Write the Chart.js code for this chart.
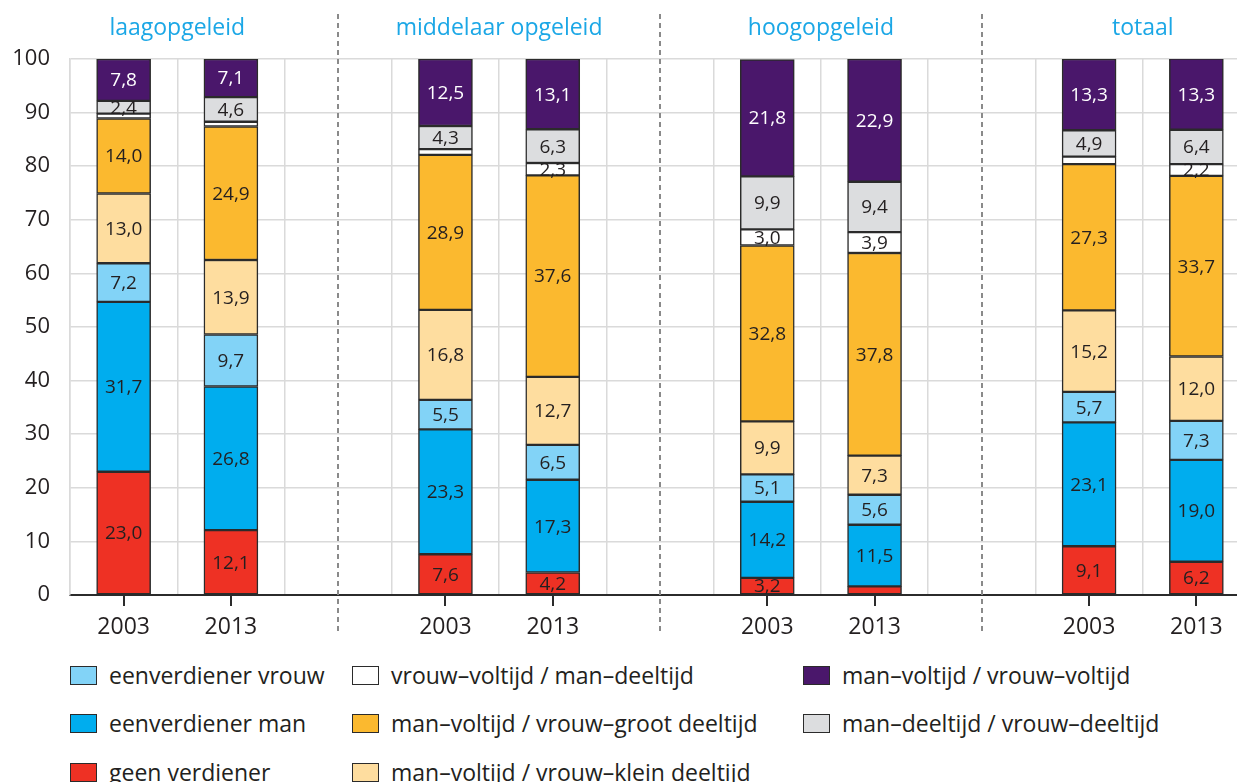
<!DOCTYPE html>
<html>
<head>
<meta charset="utf-8">
<script src="https://cdn.jsdelivr.net/npm/chart.js@4"></script>
<style>
  html, body { margin: 0; padding: 0; background: #fff; overflow: hidden; }
  #wrap { position: relative; width: 1250px; height: 782px; font-family: "Open Sans", sans-serif; }
  #chartBox { position: absolute; left: 0; top: 0; width: 1250px; height: 640px; }
  .lg { position: absolute; display: flex; align-items: center; height: 24px; font-size: 23px; color: #231f20; white-space: nowrap; }
  .lg span.box { display: inline-block; width: 25px; height: 17px; border: 1.5px solid #2b2b2b; margin-right: 12px; }
</style>
</head>
<body>
<div id="wrap">
  <div id="chartBox"><canvas id="chart"></canvas></div>
  <div id="legend"></div>
</div>
<script>
// groups and years on the x axis
const groups = ['laagopgeleid', 'middelaar opgeleid', 'hoogopgeleid', 'totaal'];
const years = ['2003', '2013'];

// values per series: laag 2003, laag 2013, midd 2003, midd 2013, hoog 2003, hoog 2013, totaal 2003, totaal 2013
const geenVerdiener      = [23.0, 12.1, 7.6, 4.2, 3.2, 1.6, 9.1, 6.2];
const eenverdienerMan    = [31.7, 26.8, 23.3, 17.3, 14.2, 11.5, 23.1, 19.0];
const eenverdienerVrouw  = [7.2, 9.7, 5.5, 6.5, 5.1, 5.6, 5.7, 7.3];
const vrouwKleinDeeltijd = [13.0, 13.9, 16.8, 12.7, 9.9, 7.3, 15.2, 12.0];
const vrouwGrootDeeltijd = [14.0, 24.9, 28.9, 37.6, 32.8, 37.8, 27.3, 33.7];
const vrouwVoltijdManDt  = [0.9, 0.9, 1.1, 2.3, 3.0, 3.9, 1.4, 2.2];
const beideDeeltijd      = [2.4, 4.6, 4.3, 6.3, 9.9, 9.4, 4.9, 6.4];
const beideVoltijd       = [7.8, 7.1, 12.5, 13.1, 21.8, 22.9, 13.3, 13.3];

const yTicks = [0, 10, 20, 30, 40, 50, 60, 70, 80, 90, 100];

// series, bottom of the stack first
const series = [
  { label: 'geen verdiener', data: geenVerdiener, color: '#ee3124', text: '#231f20' },
  { label: 'eenverdiener man', data: eenverdienerMan, color: '#00adee', text: '#231f20' },
  { label: 'eenverdiener vrouw', data: eenverdienerVrouw, color: '#82d3f7', text: '#231f20' },
  { label: 'man\u2013voltijd / vrouw\u2013klein deeltijd', data: vrouwKleinDeeltijd, color: '#fedd9f', text: '#231f20' },
  { label: 'man\u2013voltijd / vrouw\u2013groot deeltijd', data: vrouwGrootDeeltijd, color: '#fbb92f', text: '#231f20' },
  { label: 'vrouw\u2013voltijd / man\u2013deeltijd', data: vrouwVoltijdManDt, color: '#ffffff', text: '#231f20' },
  { label: 'man\u2013deeltijd / vrouw\u2013deeltijd', data: beideDeeltijd, color: '#dcdddf', text: '#231f20' },
  { label: 'man\u2013voltijd / vrouw\u2013voltijd', data: beideVoltijd, color: '#4a176b', text: '#ffffff' }
];

// legend: three columns, read row by row
const legendOrder = [2, 5, 7, 1, 4, 6, 0, 3];
const legendCols = [70, 352, 803];
const legendRows = [663, 711, 760];

// x labels with an empty slot between groups
const labels = [];
groups.forEach((g, gi) => {
  years.forEach(y => labels.push(y));
  if (gi < groups.length - 1) labels.push('');
});
function spread(arr) {
  const out = [];
  for (let gi = 0; gi < groups.length; gi++) {
    out.push(arr[gi * 2], arr[gi * 2 + 1]);
    if (gi < groups.length - 1) out.push(null);
  }
  return out;
}

const FONT = '"Open Sans", sans-serif';

const extras = {
  id: 'extras',
  afterDraw(chart) {
    const ctx = chart.ctx;
    const x = chart.scales.x;
    const area = chart.chartArea;
    ctx.save();
    // dashed separators in the empty slots
    ctx.strokeStyle = '#8a8a8a';
    ctx.lineWidth = 2;
    ctx.setLineDash([5, 4]);
    labels.forEach((l, i) => {
      if (l !== '') return;
      const px = Math.round(x.getPixelForValue(i));
      ctx.beginPath();
      ctx.moveTo(px, 14);
      ctx.lineTo(px, 634);
      ctx.stroke();
    });
    ctx.setLineDash([]);
    // tick marks under the bars
    ctx.strokeStyle = '#2b2b2b';
    labels.forEach((l, i) => {
      if (l === '') return;
      const px = Math.round(x.getPixelForValue(i));
      ctx.beginPath();
      ctx.moveTo(px, area.bottom);
      ctx.lineTo(px, area.bottom + 11);
      ctx.stroke();
    });
    // group titles
    ctx.fillStyle = '#1ba7e6';
    ctx.font = '23px ' + FONT;
    ctx.textAlign = 'center';
    ctx.textBaseline = 'middle';
    groups.forEach((g, gi) => {
      const a = x.getPixelForValue(gi * 3);
      const b = x.getPixelForValue(gi * 3 + 1);
      ctx.fillText(g, (a + b) / 2, 28);
    });
    // value labels inside the segments
    ctx.font = '19px ' + FONT;
    chart.data.datasets.forEach((ds, di) => {
      const meta = chart.getDatasetMeta(di);
      meta.data.forEach((bar, i) => {
        const v = ds.data[i];
        if (v == null || v < 2) return;
        ctx.fillStyle = series[di].text;
        ctx.fillText(v.toFixed(1).replace('.', ','), bar.x, (bar.y + bar.base) / 2 + 1);
      });
    });
    ctx.restore();
  }
};

new Chart(document.getElementById('chart'), {
  type: 'bar',
  data: {
    labels: labels,
    datasets: series.map(s => ({
      label: s.label,
      data: spread(s.data),
      backgroundColor: s.color,
      borderColor: '#2b2b2b',
      borderWidth: 1.5,
      borderSkipped: false,
      barThickness: 54
    }))
  },
  options: {
    responsive: true,
    maintainAspectRatio: false,
    animation: false,
    layout: { padding: { top: 59, right: 0, left: 0, bottom: 0 } },
    plugins: { legend: { display: false }, tooltip: { enabled: false } },
    scales: {
      x: {
        stacked: true,
        afterFit: s => { s.height = 45; },
        grid: { offset: true, color: '#dadada', lineWidth: 1.5, drawTicks: false },
        border: { color: '#2b2b2b', width: 2 },
        ticks: { padding: 19, color: '#231f20', font: { family: FONT, size: 23 }, maxRotation: 0, autoSkip: false }
      },
      y: {
        stacked: true,
        min: 0,
        max: 100,
        afterFit: s => { s.width = 70; },
        afterBuildTicks: s => { s.ticks = yTicks.map(v => ({ value: v })); },
        grid: { color: '#dadada', lineWidth: 1.5, drawTicks: false },
        border: { color: '#dadada', width: 1.5 },
        ticks: { padding: 20, color: '#231f20', font: { family: FONT, size: 22 } }
      }
    }
  },
  plugins: [extras]
});

// legend built from the series
const legend = document.getElementById('legend');
legendOrder.forEach((si, k) => {
  const d = document.createElement('div');
  d.className = 'lg';
  d.style.left = legendCols[k % 3] + 'px';
  d.style.top = (legendRows[Math.floor(k / 3)]) + 'px';
  d.innerHTML = '<span class="box" style="background:' + series[si].color + '"></span>' + series[si].label;
  legend.appendChild(d);
});
</script>
</body>
</html>
